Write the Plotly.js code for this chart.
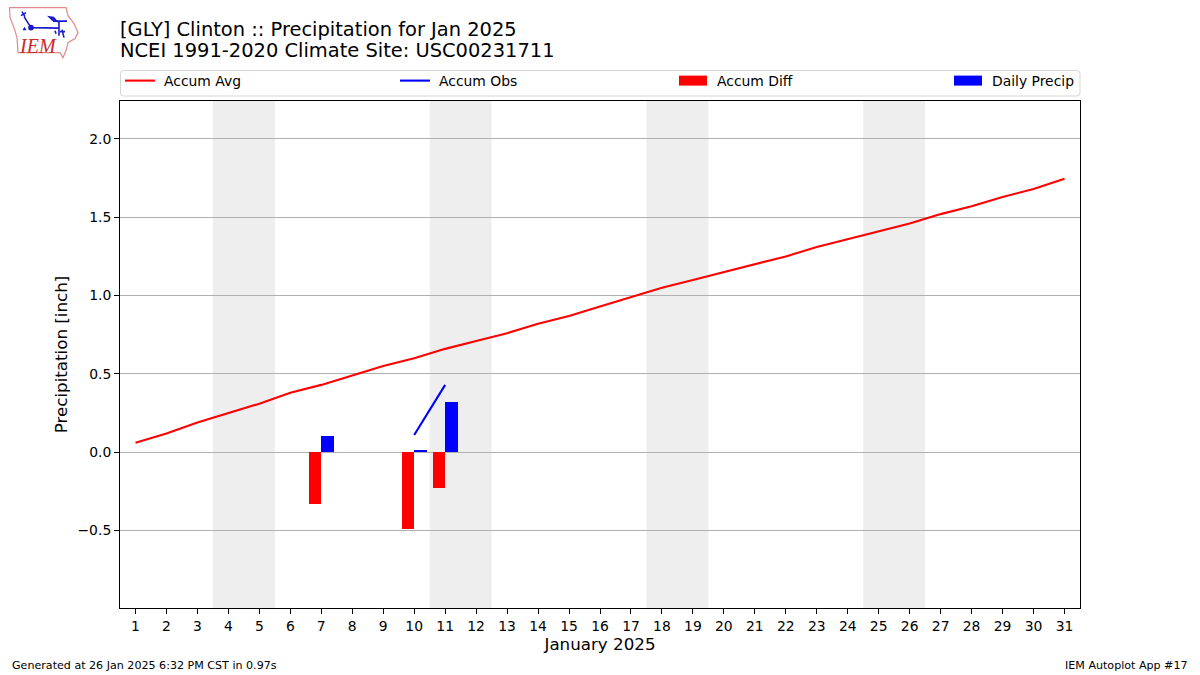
<!DOCTYPE html>
<html>
<head>
<meta charset="utf-8">
<script src="https://cdn.plot.ly/plotly-3.0.1.min.js"></script>
<style>html,body{margin:0;padding:0;background:#fff}#c{width:1200px;height:675px}</style>
</head>
<body>
<div id="c"></div>
<script>
const days = [1,2,3,4,5,6,7,8,9,10,11,12,13,14,15,16,17,18,19,20,21,22,23,24,25,26,27,28,29,30,31];
const accumAvg = [0.06,0.12,0.19,0.25,0.31,0.38,0.43,0.49,0.55,0.60,0.66,0.71,0.76,0.82,0.87,0.93,0.99,1.05,1.10,1.15,1.20,1.25,1.31,1.36,1.41,1.46,1.52,1.57,1.63,1.68,1.745];
const obsDays = [10,11];
const accumObs = [0.11,0.43];
const barDays = [7,10,11];
const accumDiff = [-0.33,-0.49,-0.23];
const dailyPrecip = [0.105,0.015,0.32];
const weekends = [[3.5,5.5],[10.5,12.5],[17.5,19.5],[24.5,26.5]];
const yTicks = [-0.5,0,0.5,1.0,1.5,2.0];

const W=1200,H=675,L=120,R=1080,T=100.5,B=608.5;
const px = x => (x-L)/(R-L);
const py = y => (B-y)/(B-T);
const FONT = '"DejaVu Sans", sans-serif';

const logoSvg = `<svg xmlns="http://www.w3.org/2000/svg" width="80" height="60" viewBox="0 0 80 60">
<path d="M9.5,7 L66,7 L68,15 L74,23 L78,32 L75,38 L68,42 L66,50 L63,57 L60,52 L18,52 L17,37 L14,27 L10,17 Z" fill="none" stroke="#e08a8a" stroke-width="1.2"/>
<g stroke="#1a1ad0" stroke-width="1.6" fill="none">
<path d="M31,27 L59,27.5 M59,20 L59,35 M53,20.5 L67,20.5 M31,27 L24,16 M22,11 L25,16 M21,15 L26,12"/>
<path d="M55,30 L56,33 M62,29 L64,37 M60,31 L65,31"/>
</g>
<circle cx="31" cy="27" r="2.8" fill="#1a1ad0"/>
<path d="M47,15 L54,16 L59,22 L52,20 Z" fill="#1a1ad0"/>
<path d="M24.5,26 L26.5,29.5 L22.5,29.5 Z" fill="#1a1ad0"/>
</svg>`;

const traces = [
 {type:'scatter',mode:'lines',x:days,y:accumAvg,name:'Accum Avg',line:{color:'#ff0000',width:2.1},legend:'legend',showlegend:true},
 {type:'scatter',mode:'lines',x:obsDays,y:accumObs,name:'Accum Obs',line:{color:'#0000ff',width:2.1},legend:'legend2',showlegend:true},
 {type:'bar',x:barDays,y:accumDiff,name:'Accum Diff',width:0.4,offset:-0.4,marker:{color:'#ff0000'},legend:'legend3',showlegend:true},
 {type:'bar',x:barDays,y:dailyPrecip,name:'Daily Precip',width:0.4,offset:0,marker:{color:'#0000ff'},legend:'legend4',showlegend:true}
];

const legendAt = x => ({x:px(x),xanchor:'left',y:py(64.5),yanchor:'top',orientation:'h',bgcolor:'rgba(0,0,0,0)',borderwidth:0,font:{family:FONT,size:13.9,color:'#000'},itemclick:false,itemdoubleclick:false,traceorder:'normal'});

const shapes = weekends.map(w=>({type:'rect',xref:'x',yref:'paper',x0:w[0],x1:w[1],y0:0,y1:1,fillcolor:'#eeeeee',line:{width:0},layer:'below'}));
const fr = {l:120.5,r:1080,t:70,b:95.5,c:3};
const P = (x,y) => px(x)+','+py(y);
shapes.push({type:'path',xref:'paper',yref:'paper',
 path:'M'+P(fr.l+fr.c,fr.t)+' L'+P(fr.r-fr.c,fr.t)+' Q'+P(fr.r,fr.t)+' '+P(fr.r,fr.t+fr.c)+' L'+P(fr.r,fr.b-fr.c)+' Q'+P(fr.r,fr.b)+' '+P(fr.r-fr.c,fr.b)+' L'+P(fr.l+fr.c,fr.b)+' Q'+P(fr.l,fr.b)+' '+P(fr.l,fr.b-fr.c)+' L'+P(fr.l,fr.t+fr.c)+' Q'+P(fr.l,fr.t)+' '+P(fr.l+fr.c,fr.t)+' Z',
 line:{color:'#d5d5d5',width:1},fillcolor:'rgba(0,0,0,0)'});

const ann = (text,x,y,anchor,size,extra) => Object.assign({text,xref:'paper',yref:'paper',x:px(x),y:py(y),xanchor:anchor,yanchor:'middle',showarrow:false,font:{family:FONT,size,color:'#000'}},extra||{});

const layout = {
 width:W,height:H,autosize:false,paper_bgcolor:'#fff',plot_bgcolor:'#fff',showlegend:true,
 margin:{l:L,r:W-R,t:T,b:H-B,pad:0},
 font:{family:FONT,size:13.9,color:'#000'},
 barmode:'overlay',bargap:0,
 title:{text:'[GLY] Clinton :: Precipitation for Jan 2025',font:{family:FONT,size:19.45,color:'#000'},xref:'paper',x:0,xanchor:'left',yref:'container',y:1-29/H,yanchor:'middle',pad:{l:0,r:0,t:0,b:0}},
 xaxis:{range:[0.5,31.5],tickmode:'array',tickvals:days,ticktext:days.map(String),showgrid:false,zeroline:false,ticks:'outside',ticklen:5,tickwidth:1.1,tickcolor:'#000',showline:true,linecolor:'#000',linewidth:1,mirror:true,tickfont:{family:FONT,size:13.9},title:{text:'January 2025',font:{family:FONT,size:16.7},standoff:3}},
 yaxis:{range:[-0.994,2.242],tickmode:'array',tickvals:yTicks,ticktext:yTicks.map(v=>v<0?'\u2212'+Math.abs(v).toFixed(1):v.toFixed(1)),showgrid:true,gridcolor:'#b0b0b0',gridwidth:1,zeroline:false,ticks:'outside',ticklen:5,tickwidth:1.1,tickcolor:'#000',showline:true,linecolor:'#000',linewidth:1,mirror:true,tickfont:{family:FONT,size:13.9},title:{text:'Precipitation [inch]',font:{family:FONT,size:16.7},standoff:5}},
 legend:legendAt(120),legend2:legendAt(395),legend3:legendAt(673),legend4:legendAt(948),
 shapes,
 images:[{source:'data:image/svg+xml;utf8,'+encodeURIComponent(logoSvg),xref:'paper',yref:'paper',x:px(0),y:py(0),sizex:80/(R-L),sizey:60/(B-T),xanchor:'left',yanchor:'top',sizing:'stretch',layer:'above'}],
 annotations:[
  ann('NCEI 1991-2020 Climate Site: USC00231711',117.5,50,'left',19.45),
  ann('<i>IEM</i>',37.5,45,'center',20,{font:{family:'"Liberation Serif", serif',size:20,color:'#cc2a2a'}}),
  ann('Generated at 26 Jan 2025 6:32 PM CST in 0.97s',10,666,'left',11.1),
  ann('IEM Autoplot App #17',1190,666,'right',11.1)
 ]
};

Plotly.newPlot('c',traces,layout,{displayModeBar:false}).then(()=>{
 document.querySelectorAll('path.legendundefined').forEach(p=>p.setAttribute('d','M14,5H-14V-5H14Z'));
 document.querySelectorAll('text.legendtext, text.legend2text, text.legend3text, text.legend4text').forEach(t=>t.setAttribute('x','44'));
});
</script>
</body>
</html>
